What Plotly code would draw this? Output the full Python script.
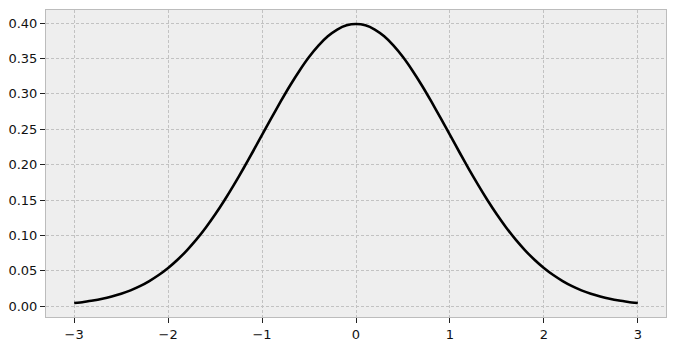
import plotly.graph_objects as go

# values (x every 0.1, left half; the curve is symmetric in the picture)
x_left = [-3.0, -2.9, -2.8, -2.7, -2.6, -2.5, -2.4, -2.3, -2.2, -2.1, -2.0,
          -1.9, -1.8, -1.7, -1.6, -1.5, -1.4, -1.3, -1.2, -1.1, -1.0,
          -0.9, -0.8, -0.7, -0.6, -0.5, -0.4, -0.3, -0.2, -0.1, 0.0]
y_left = [0.0044, 0.0060, 0.0079, 0.0104, 0.0136, 0.0175, 0.0224, 0.0283, 0.0355, 0.0440, 0.0540,
          0.0656, 0.0790, 0.0940, 0.1109, 0.1295, 0.1497, 0.1714, 0.1942, 0.2179, 0.2420,
          0.2661, 0.2897, 0.3123, 0.3332, 0.3521, 0.3683, 0.3814, 0.3910, 0.3970, 0.3989]
x_right = [0.1, 0.2, 0.3, 0.4, 0.5, 0.6, 0.7, 0.8, 0.9, 1.0,
           1.1, 1.2, 1.3, 1.4, 1.5, 1.6, 1.7, 1.8, 1.9, 2.0,
           2.1, 2.2, 2.3, 2.4, 2.5, 2.6, 2.7, 2.8, 2.9, 3.0]
y_right = [0.3970, 0.3910, 0.3814, 0.3683, 0.3521, 0.3332, 0.3123, 0.2897, 0.2661, 0.2420,
           0.2179, 0.1942, 0.1714, 0.1497, 0.1295, 0.1109, 0.0940, 0.0790, 0.0656, 0.0540,
           0.0440, 0.0355, 0.0283, 0.0224, 0.0175, 0.0136, 0.0104, 0.0079, 0.0060, 0.0044]

x_ticks = [-3, -2, -1, 0, 1, 2, 3]
x_tick_text = ["\u22123", "\u22122", "\u22121", "0", "1", "2", "3"]
y_ticks = [0.00, 0.05, 0.10, 0.15, 0.20, 0.25, 0.30, 0.35, 0.40]
y_tick_text = ["0.00", "0.05", "0.10", "0.15", "0.20", "0.25", "0.30", "0.35", "0.40"]

fig = go.Figure()
fig.add_trace(go.Scatter(x=x_left + x_right, y=y_left + y_right, mode="lines",
                         line=dict(color="black", width=2.6, shape="spline", smoothing=0.6)))

axis_common = dict(
    showline=True, mirror=True, linecolor="#bcbcbc", linewidth=1,
    showgrid=True, gridcolor="#c2c2c2", gridwidth=0.6, griddash="3px,2px",
    zeroline=False, ticks="outside", ticklen=5, tickwidth=1, tickcolor="#222222",
    tickfont=dict(family="DejaVu Sans", size=13, color="#111111"),
    automargin=False,
)

fig.update_layout(
    width=675, height=346,
    margin=dict(l=46, r=9, t=10, b=29),
    paper_bgcolor="white", plot_bgcolor="#eeeeee",
    showlegend=False,
    xaxis=dict(range=[-3.3, 3.3], tickvals=x_ticks, ticktext=x_tick_text, **axis_common),
    yaxis=dict(range=[-0.0153, 0.4186], tickvals=y_ticks, ticktext=y_tick_text, **axis_common),
)

fig.write_html("out.html")
